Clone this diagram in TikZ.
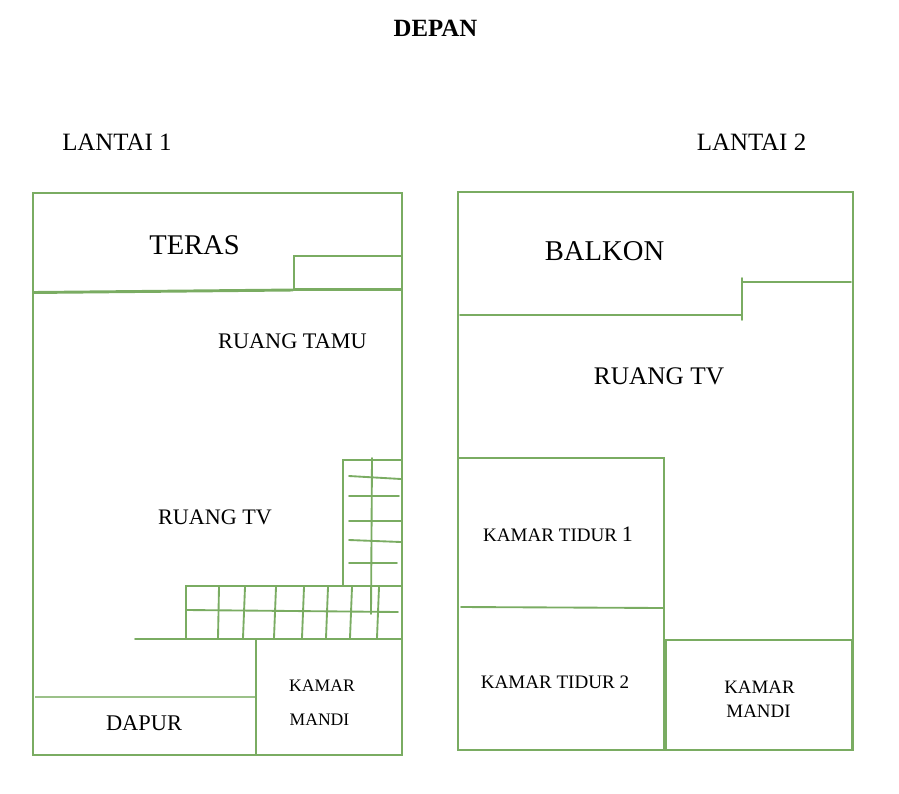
\documentclass[tikz,border=0pt]{standalone}
\usepackage{fontspec}
\setmainfont{Liberation Serif}
\newcommand{\fsz}[1]{\fontsize{#1}{#1}\selectfont}
\definecolor{wallgreen}{RGB}{122,172,98}
\tikzset{
  wall/.style={draw=wallgreen,line width=1.4pt,line cap=round},
  thin wall/.style={draw=wallgreen!75,line width=0.9pt},
  thick wall/.style={draw=wallgreen,line width=2.2pt},
  lbl/.style={inner sep=0pt,text=black,anchor=center,align=center}
}
\begin{document}
\begin{tikzpicture}[x=0.75pt,y=-0.75pt]
\useasboundingbox (0,0) rectangle (899,793);
% --- Lantai 1 ---
\draw[wall] (33,193) rectangle (402,755);
\draw[thick wall] (34,292.5) -- (293,290);
\draw[thick wall] (293,289.5) -- (402,289.5);
\draw[wall] (294,289) -- (294,256) -- (402,256);
\draw[thin wall] (35,697) -- (256,697);
\draw[wall] (135,639) -- (402,639);
\draw[wall] (256,639) -- (256,755);
% stairs
\draw[wall] (343,586) -- (343,460) -- (402,460);
\draw[wall] (186,639) -- (186,586) -- (402,586);
\draw[wall] (372,458) -- (371,614);
\foreach \ya/\yb/\xb in {476/479/401,496/496/399,521/521/401,540/542/401,563/563/397}
  \draw[wall] (349,\ya) -- (\xb,\yb);
\draw[wall] (187,610) -- (398,612);
\foreach \xa/\xb in {219/218,245/243,276/274,304/302,328/326,352/350,379/377}
  \draw[wall] (\xa,587) -- (\xb,638);
% --- Lantai 2 ---
\draw[wall] (458,192) rectangle (853,750);
\draw[wall] (460,315) -- (741,315);
\draw[wall] (741.8,278) -- (741.8,320);
\draw[wall] (742,282) -- (851,282);
\draw[wall] (458.5,458) rectangle (664,750);
\draw[wall] (461,607) -- (664,608);
\draw[wall] (666,639.8) rectangle (851.5,750);
% --- Labels ---
\node[lbl] (depan) at (435.5,28.5) {\fsz{18.6}\bfseries DEPAN};
\node[lbl] (l1) at (117,142.5) {\fsz{18.7}LANTAI 1};
\node[lbl] (l2) at (751.5,142.5) {\fsz{18.7}LANTAI 2};
\node[lbl] (teras) at (194.5,245) {\fsz{21.4}TERAS};
\node[lbl] (balkon) at (604.5,251.5) {\fsz{21.5}BALKON};
\node[lbl] (tamu) at (292.5,341.5) {\fsz{16.7}RUANG TAMU};
\node[lbl] (tv1) at (215,517.5) {\fsz{16.6}RUANG TV};
\node[lbl] (tv2) at (659,376.5) {\fsz{19}RUANG TV};
\node[lbl] (dapur) at (144,723.5) {\fsz{16.8}DAPUR};
\node[lbl] (km1a) at (322,685.5) {\fsz{13.2}KAMAR};
\node[lbl] (km1b) at (319.5,720) {\fsz{13.2}MANDI};
\node[lbl] (kt1) at (558,534.5) {\fsz{14.3}KAMAR TIDUR {\fsz{16.5}1}};
\node[lbl] (kt2) at (555,682.5) {\fsz{14.3}KAMAR TIDUR 2};
\node[lbl] (km2a) at (759.5,687.5) {\fsz{14.2}KAMAR};
\node[lbl] (km2b) at (758.5,711.5) {\fsz{14.2}MANDI};
\end{tikzpicture}
\end{document}
